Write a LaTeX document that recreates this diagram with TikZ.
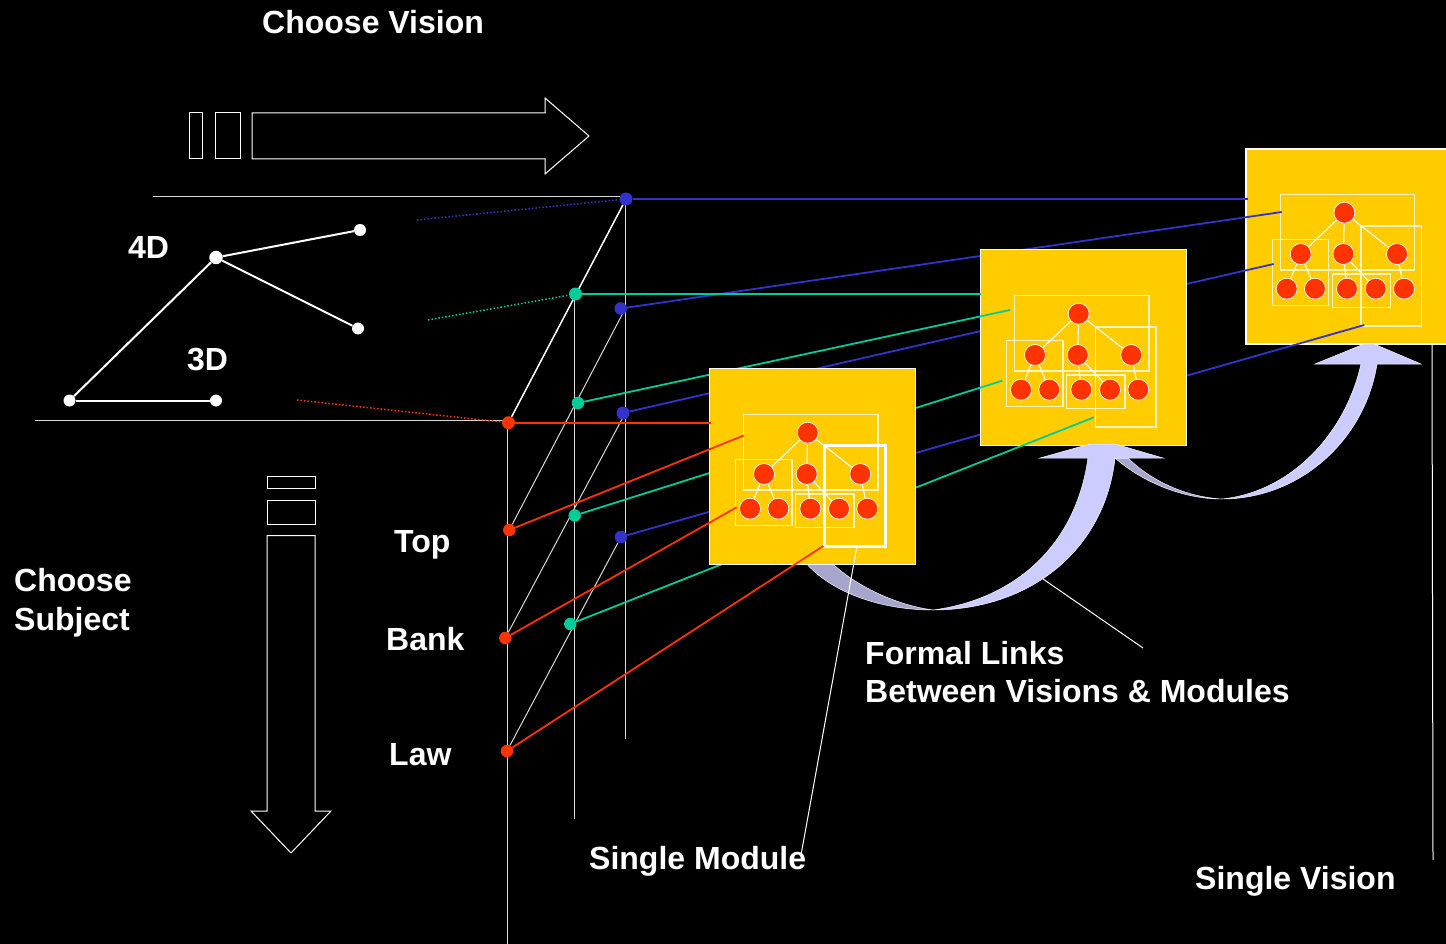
\documentclass[tikz,border=0pt]{standalone}
\usepackage{fontspec}
\setmainfont{Liberation Sans}
\usetikzlibrary{backgrounds}
\definecolor{gold}{HTML}{FFCC00}
\definecolor{hotred}{HTML}{FF3300}
\definecolor{deepblue}{HTML}{3333CC}
\definecolor{seagreen}{HTML}{00CC99}
\definecolor{lav}{HTML}{CCCCFF}
\definecolor{lavdark}{HTML}{A6A6CC}
\definecolor{palebox}{HTML}{FFF4C0}
\tikzset{
  label text/.style={text=white,font=\fontsize{32}{36}\selectfont\bfseries,inner sep=0pt,anchor=base west},
  dot/.style={circle,inner sep=0pt,minimum size=13pt,draw=none},
  bluedot/.style={dot,fill=deepblue},
  greendot/.style={dot,fill=seagreen},
  reddot/.style={dot,fill=hotred},
  whitedot/.style={dot,fill=white,minimum size=12pt},
  treenode/.style={circle,inner sep=0pt,minimum size=21pt,fill=hotred,draw=white,line width=0.7pt},
  treeline/.style={draw=white,line width=1.1pt},
  group/.style={draw=palebox,line width=1.1pt},
  guide/.style={draw=white!85!black,line width=1pt},
  thinwhite/.style={draw=white,line width=1pt},
  linkblue/.style={draw=deepblue,line width=1.8pt},
  linkgreen/.style={draw=seagreen,line width=1.8pt},
  linkred/.style={draw=hotred,line width=1.8pt},
  dotblue/.style={draw=deepblue,line width=1.5pt,dash pattern=on 1.5pt off 2pt},
  dotgreen/.style={draw=seagreen,line width=1.5pt,dash pattern=on 1.5pt off 2pt},
  dotred/.style={draw=hotred,line width=1.5pt,dash pattern=on 1.5pt off 2pt},
  flowlight/.style={fill=lav,draw=white!85!lav,line width=0.5pt},
  flowdark/.style={fill=lavdark,draw=white!85!lav,line width=0.5pt},
  paleD/.style={draw=palebox,line width=1.1pt},
  boldD/.style={draw=none},
  heavyframe/.style={draw=white,line width=3pt},
}
% #1 prefix, #2 dx, #3 dy, #4 border width, #5 style of group D
\newcommand{\mymodule}[5]{%
\begin{scope}[shift={(#2,#3)}]
  \node[fill=gold,inner sep=0pt,minimum width=206pt,minimum height=195pt] (#1box) at (812.3,466.5) {};
  \draw[draw=white,line width=#4] (#1box.north west) rectangle (#1box.south east);
  \node[group,inner sep=0pt,minimum width=134.3pt,minimum height=75.3pt] (#1A) at (810.85,452.35) {};
  \node[group,inner sep=0pt,minimum width=56.3pt,minimum height=66pt] (#1B) at (763.85,492.3) {};
  \node[group,inner sep=0pt,minimum width=58.3pt,minimum height=33.3pt] (#1C) at (824.85,510.65) {};
  \node[treenode] (#1r) at (807.7,432.7) {};
  \node[treenode] (#1a) at (764,474) {};
  \node[treenode] (#1b) at (806.7,474) {};
  \node[treenode] (#1c) at (860.3,474) {};
  \node[treenode] (#1d) at (750,508.7) {};
  \node[treenode] (#1e) at (778.3,508.7) {};
  \node[treenode] (#1f) at (810.3,508.7) {};
  \node[treenode] (#1g) at (839,508.7) {};
  \node[treenode] (#1h) at (867.3,508.7) {};
  \draw[treeline] (#1r) -- (#1a);
  \draw[treeline] (#1r) -- (#1b);
  \draw[treeline] (#1r) -- (#1c);
  \draw[treeline] (#1a) -- (#1d);
  \draw[treeline] (#1a) -- (#1e);
  \draw[treeline] (#1b) -- (#1f);
  \draw[treeline] (#1b) -- (#1g);
  \draw[treeline] (#1c) -- (#1h);
  \node[#5,inner sep=0pt,minimum width=60.7pt,minimum height=100pt] (#1D) at (854.65,496) {};
\end{scope}}
\begin{document}
\begin{tikzpicture}[x=1pt,y=-1pt]
\useasboundingbox (0,0) rectangle (1446,944);

% dots
\node[bluedot] (b1) at (626,199) {};
\node[bluedot,minimum size=12.5pt] (b2) at (620.7,308.5) {};
\node[bluedot] (b3) at (623,413) {};
\node[bluedot,minimum size=12.5pt] (b4) at (621,537) {};
\node[greendot] (g1) at (575.5,294) {};
\node[greendot,minimum size=12.5pt] (g2) at (578,403) {};
\node[greendot,minimum size=12.5pt] (g3) at (574.7,515.5) {};
\node[greendot,minimum size=12.5pt] (g4) at (570.3,624) {};
\node[reddot] (r1) at (508.5,422.7) {};
\node[reddot,minimum size=12.5pt] (r2) at (509.3,530) {};
\node[reddot,minimum size=12.5pt] (r3) at (505.3,638) {};
\node[reddot,minimum size=12.5pt] (r4) at (507,751) {};

% free ends
\coordinate (vr) at (507,944);
\coordinate (vrt) at (507,422);
\coordinate (vg) at (574.5,819);
\coordinate (vgt) at (574.5,294);
\coordinate (vb) at (625.3,739);
\coordinate (vbt) at (625.3,199);
\coordinate (topL) at (153,196.7);
\coordinate (topR) at (626,196.7);
\coordinate (botL) at (35,420);
\coordinate (botR) at (505,420);
\coordinate (b2top) at (625.3,308.5);
\coordinate (b3top) at (625.3,413);

\begin{scope}[on background layer]
  \fill[black] (0,0) rectangle (1446,944);
  \draw[guide] (topL) -- (topR);
  \draw[guide] (botL) -- (botR);
  \draw[guide] (vrt) -- (vr);
  \draw[guide] (vgt) -- (vg);
  \draw[guide] (vbt) -- (vb);
  \draw[draw=white,line width=1.5pt] (r1) -- (b1);
  \draw[guide] (r2) -- (b2top);
  \draw[guide] (r3) -- (b3top);
  \draw[guide] (r4) -- (b4);
\end{scope}

% Left graph
\node[whitedot] (w1) at (69.5,400.5) {};
\node[whitedot] (w2) at (216,400.5) {};
\node[whitedot,minimum size=13.5pt] (w3) at (216,257.5) {};
\node[whitedot] (w4) at (360,230) {};
\node[whitedot] (w5) at (358,328.5) {};
\draw[draw=white,line width=2pt] (w1) -- (w3);
\draw[draw=white,line width=2pt] (w1) -- (w2);
\draw[draw=white,line width=2pt] (w3) -- (w4);
\draw[draw=white,line width=2pt] (w3) -- (w5);

% Block arrows
\node[thinwhite,draw,inner sep=0pt,minimum width=13pt,minimum height=46pt] (ra) at (196,136) {};
\node[thinwhite,draw,inner sep=0pt,minimum width=25pt,minimum height=46pt] (rb) at (227.5,136) {};
\draw[thinwhite] (252,113) -- (545,113) -- (545,98) -- (589,136) -- (545,174) -- (545,159) -- (252,159) -- cycle;
\node[thinwhite,draw,inner sep=0pt,minimum width=48pt,minimum height=12pt] (da) at (291,482.5) {};
\node[thinwhite,draw,inner sep=0pt,minimum width=48pt,minimum height=24pt] (db) at (291,512) {};
\draw[thinwhite] (267,535.5) -- (315,535.5) -- (315,811) -- (331,811) -- (291,853) -- (251,811) -- (267,811) -- cycle;

% Module 3 and blue links
\mymodule{mc}{536.7}{-220}{2.5pt}{paleD}
\coordinate (e1) at (1248,199);
\coordinate (e2) at (1281.7,212);
\coordinate (e3) at (1273.7,264);
\coordinate (e4) at (1364.3,325);
\draw[linkblue] (b1) -- (e1);
\draw[linkblue] (b2) -- (e2);
\draw[linkblue] (b3) -- (e3);
\draw[linkblue] (b4) -- (e4);
\coordinate (dotb) at (417,220);
\draw[dotblue] (dotb) -- (b1);

% Arrow 2
\path[flowdark] (1115,458) .. controls (1140,480) and (1180,499) .. (1222,499) .. controls (1185,497) and (1150,480) .. (1128,458) -- cycle;
\path[flowlight] (1222,499) .. controls (1300,499) and (1365,440) .. (1377,364) -- (1421,364) -- (1374,344) -- (1364,344) -- (1315,364) -- (1361,364) .. controls (1345,435) and (1290,492) .. (1222,499) -- cycle;

% Module 2 and green links
\mymodule{mb}{271}{-119}{1.2pt}{paleD}
\coordinate (f1) at (981,294);
\coordinate (f2) at (1010,310);
\coordinate (f3) at (1002.3,380.7);
\coordinate (f4) at (1094,417.3);
\draw[linkgreen] (g1) -- (f1);
\draw[linkgreen] (g2) -- (f2);
\draw[linkgreen] (g3) -- (f3);
\draw[linkgreen] (g4) -- (f4);
\coordinate (dotg) at (428,320);
\draw[dotgreen] (dotg) -- (g1);

% Arrow 1
\path[flowdark] (806.7,564) .. controls (835,595) and (885,610) .. (933,610) .. controls (895,605) and (855,585) .. (833,564) -- cycle;
\path[flowlight] (933,610) .. controls (1030,610) and (1105,550) .. (1115,458) -- (1163,458) -- (1115,444) -- (1090,444) -- (1040,458) -- (1088,458) .. controls (1075,550) and (1010,600) .. (933,610) -- cycle;

% Module 1 and red links
\mymodule{ma}{0}{0}{1pt}{boldD}
\draw[heavyframe] (maD.north west) rectangle (maD.south east);
\coordinate (h1) at (710.5,422.7);
\coordinate (h2) at (743.7,435.5);
\coordinate (h3) at (736.7,507.3);
\coordinate (h4) at (823.3,546);
\draw[linkred] (r1) -- (h1);
\draw[linkred] (r2) -- (h2);
\draw[linkred] (r3) -- (h3);
\draw[linkred] (r4) -- (h4);
\coordinate (dotr) at (297,400);
\draw[dotred] (dotr) -- (r1);

% Leaders
\coordinate (l1a) at (1143,648);
\coordinate (l1b) at (1043,579);
\coordinate (l2a) at (857,546);
\coordinate (l2b) at (801,855);
\coordinate (l3a) at (1432,344);
\coordinate (l3b) at (1433,860);
\draw[thinwhite] (l1a) -- (l1b);
\draw[thinwhite] (l2a) -- (l2b);
\draw[thinwhite] (l3a) -- (l3b);

% Labels
\node[label text] (t1) at (262,33.5) {Choose Vision};
\node[label text] (t2) at (128,258.5) {4D};
\node[label text] (t3) at (187,370) {3D};
\node[label text] (t4) at (394,552.5) {Top};
\node[label text] (t5) at (386,650) {Bank};
\node[label text] (t6) at (389,765) {Law};
\node[label text] (t7) at (14,591) {Choose};
\node[label text] (t8) at (14,630) {Subject};
\node[label text] (t9) at (865,664) {Formal Links};
\node[label text] (t10) at (865,702) {Between Visions \& Modules};
\node[label text] (t11) at (589,869) {Single Module};
\node[label text] (t12) at (1195,889) {Single Vision};
\end{tikzpicture}
\end{document}
